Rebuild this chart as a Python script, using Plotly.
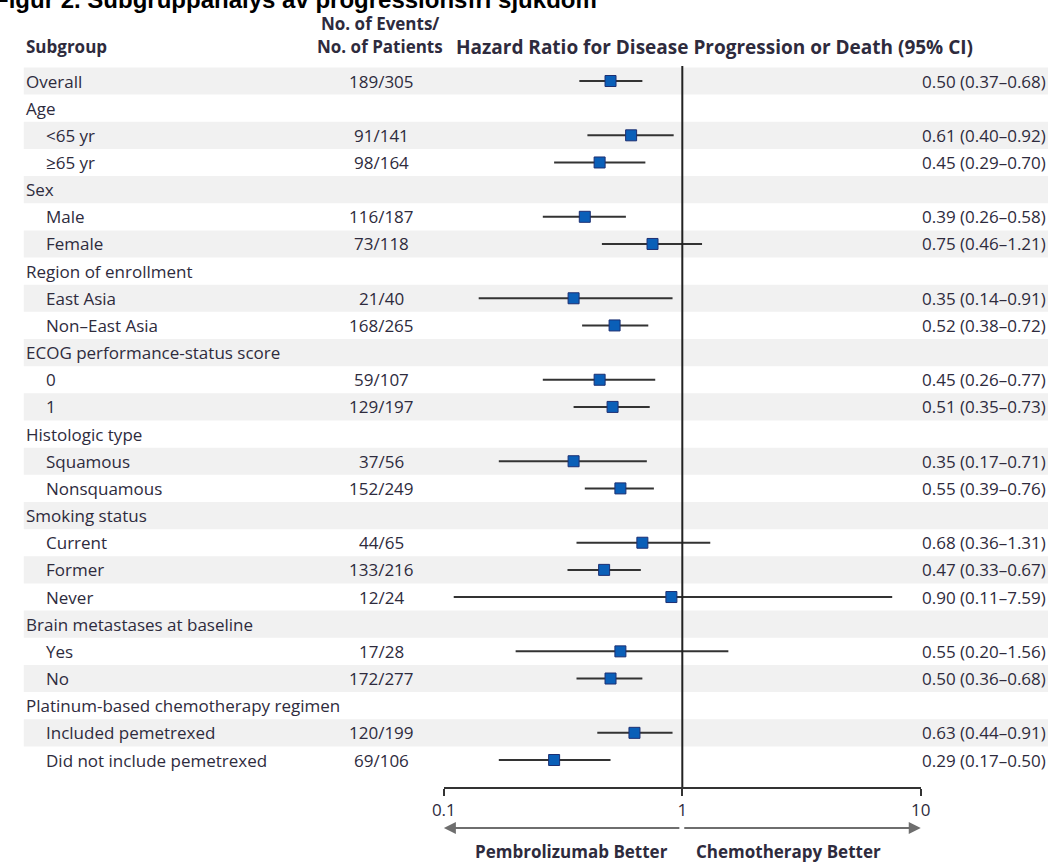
import math
import plotly.graph_objects as go

# ---------------- data ----------------
subgroups = ["Overall", "Age", "<65 yr", "≥65 yr", "Sex", "Male", "Female",
             "Region of enrollment", "East Asia", "Non–East Asia",
             "ECOG performance-status score", "0", "1",
             "Histologic type", "Squamous", "Nonsquamous",
             "Smoking status", "Current", "Former", "Never",
             "Brain metastases at baseline", "Yes", "No",
             "Platinum-based chemotherapy regimen", "Included pemetrexed",
             "Did not include pemetrexed"]
indented = [False, False, True, True, False, True, True, False, True, True,
            False, True, True, False, True, True, False, True, True, True,
            False, True, True, False, True, True]
events = ["189/305", "", "91/141", "98/164", "", "116/187", "73/118", "",
          "21/40", "168/265", "", "59/107", "129/197", "", "37/56", "152/249",
          "", "44/65", "133/216", "12/24", "", "17/28", "172/277", "",
          "120/199", "69/106"]
hr = [0.50, None, 0.61, 0.45, None, 0.39, 0.75, None, 0.35, 0.52, None, 0.45,
      0.51, None, 0.35, 0.55, None, 0.68, 0.47, 0.90, None, 0.55, 0.50, None,
      0.63, 0.29]
ci_low = [0.37, None, 0.40, 0.29, None, 0.26, 0.46, None, 0.14, 0.38, None,
          0.26, 0.35, None, 0.17, 0.39, None, 0.36, 0.33, 0.11, None, 0.20,
          0.36, None, 0.44, 0.17]
ci_high = [0.68, None, 0.92, 0.70, None, 0.58, 1.21, None, 0.91, 0.72, None,
           0.77, 0.73, None, 0.71, 0.76, None, 1.31, 0.67, 7.59, None, 1.56,
           0.68, None, 0.91, 0.50]
tick_vals = [0.1, 1, 10]
tick_text = ["0.1", "1", "10"]

title_text = "Figur 2. Subgruppanalys av progressionsfri sjukdom"
col_subgroup = "Subgroup"
col_events = ["No. of Events/", "No. of Patients"]
col_hr = "Hazard Ratio for Disease Progression or Death (95% CI)"
left_label = "Pembrolizumab Better"
right_label = "Chemotherapy Better"

# ---------------- geometry ----------------
W, H = 1061, 863
FONT = "Open Sans"
TXT = "#2e2b3d"
FS = 17
row0_px, pitch = 81.0, 27.16
axis_px = 787.0
y_top = (0 - row0_px) / pitch
y_bot = (axis_px - row0_px) / pitch


def px_x(p):
    return p / W


def py(p):
    return (H - p) / H


rows = list(range(len(subgroups)))

fig = go.Figure()

# CI lines
lx, ly = [], []
for i in rows:
    if hr[i] is not None:
        lx += [ci_low[i], ci_high[i], None]
        ly += [i, i, None]
fig.add_trace(go.Scatter(x=lx, y=ly, mode="lines",
                         line=dict(color="#333333", width=2),
                         hoverinfo="skip", showlegend=False))

# reference line at 1
fig.add_trace(go.Scatter(x=[1, 1], y=[-0.55, y_bot], mode="lines",
                         line=dict(color="#222222", width=2),
                         hoverinfo="skip", showlegend=False))

# point estimates
mx = [hr[i] for i in rows if hr[i] is not None]
my = [i for i in rows if hr[i] is not None]
fig.add_trace(go.Scatter(x=mx, y=my, mode="markers",
                         marker=dict(symbol="square", size=11, color="#0a5fb8",
                                     line=dict(color="#1d2f72", width=1)),
                         hoverinfo="skip", showlegend=False))

shapes = []
for i in rows:
    if i % 2 == 0:
        shapes.append(dict(type="rect", xref="paper", yref="y",
                           x0=px_x(12), x1=px_x(1058), y0=i - 0.5, y1=i + 0.5,
                           fillcolor="#f1f1f1", line=dict(width=0),
                           layer="below"))

ann = []
for i in rows:
    ann.append(dict(x=px_x(33 if indented[i] else 12), y=i, xref="paper",
                    yref="y", text=subgroups[i], showarrow=False,
                    xanchor="left", yanchor="middle",
                    font=dict(family=FONT, size=FS, color=TXT)))
    if events[i]:
        ann.append(dict(x=px_x(377), y=i, xref="paper", yref="y",
                        text=events[i], showarrow=False, xanchor="center",
                        yanchor="middle",
                        font=dict(family=FONT, size=FS, color=TXT)))
    if hr[i] is not None:
        ann.append(dict(x=px_x(1058), y=i, xref="paper", yref="y",
                        text=f"{hr[i]:.2f} ({ci_low[i]:.2f}–{ci_high[i]:.2f})",
                        showarrow=False, xanchor="right", yanchor="middle",
                        font=dict(family=FONT, size=FS, color=TXT)))

bold = dict(family=FONT, size=FS, color=TXT, weight="bold")
ann.append(dict(x=px_x(12), y=py(47), xref="paper", yref="paper",
                text=f"<b>{col_subgroup}</b>", showarrow=False,
                xanchor="left", yanchor="middle", font=bold))
ann.append(dict(x=px_x(376), y=py(24), xref="paper", yref="paper",
                text=f"<b>{col_events[0]}</b>", showarrow=False,
                xanchor="center", yanchor="middle", font=bold))
ann.append(dict(x=px_x(376), y=py(47), xref="paper", yref="paper",
                text=f"<b>{col_events[1]}</b>", showarrow=False,
                xanchor="center", yanchor="middle", font=bold))
ann.append(dict(x=px_x(451), y=py(47), xref="paper", yref="paper",
                text=f"<b>{col_hr}</b>", showarrow=False,
                xanchor="left", yanchor="middle",
                font=dict(family=FONT, size=19, color=TXT, weight="bold")))

# title (clipped at top-left like the reference)
ann.append(dict(x=px_x(-20), y=py(15), xref="paper", yref="paper",
                text=f"<b>{title_text}</b>", showarrow=False,
                xanchor="left", yanchor="bottom",
                font=dict(family="Liberation Sans", size=24, color="#000000")))

# direction arrows
ann.append(dict(x=math.log10(tick_vals[0]), y=py(828), xref="x", yref="paper",
                text="", showarrow=True, ax=237, ay=0, axref="pixel",
                ayref="pixel", arrowhead=2, arrowsize=1.2, arrowwidth=2,
                arrowcolor="#6e6e6e"))
ann.append(dict(x=math.log10(tick_vals[-1]), y=py(828), xref="x", yref="paper",
                text="", showarrow=True, ax=-238, ay=0, axref="pixel",
                ayref="pixel", arrowhead=2, arrowsize=1.2, arrowwidth=2,
                arrowcolor="#6e6e6e"))
ann.append(dict(x=px_x(571), y=py(851), xref="paper", yref="paper",
                text=f"<b>{left_label}</b>", showarrow=False,
                xanchor="center", yanchor="middle", font=bold))
ann.append(dict(x=px_x(793), y=py(851), xref="paper", yref="paper",
                text=f"<b>{right_label}</b>", showarrow=False,
                xanchor="center", yanchor="middle", font=bold))

fig.update_layout(
    width=W, height=H,
    margin=dict(l=0, r=0, t=0, b=0),
    paper_bgcolor="white", plot_bgcolor="rgba(0,0,0,0)",
    showlegend=False,
    shapes=shapes, annotations=ann,
    xaxis=dict(type="log", range=[-1, 1],
               domain=[px_x(441), px_x(928)],
               showgrid=False, zeroline=False,
               showline=True, linecolor="#333333", linewidth=2,
               ticks="outside", ticklen=7, tickwidth=2, tickcolor="#333333",
               tickvals=tick_vals, ticktext=tick_text,
               tickfont=dict(family=FONT, size=FS, color=TXT)),
    yaxis=dict(range=[y_bot, y_top], domain=[py(axis_px), 1],
               visible=False, showgrid=False, zeroline=False),
)

fig.write_html(
    "out.html",
    config={"displayModeBar": False},
    post_script="document.body.style.margin='0px';"
                "document.body.style.overflow='hidden';",
)
